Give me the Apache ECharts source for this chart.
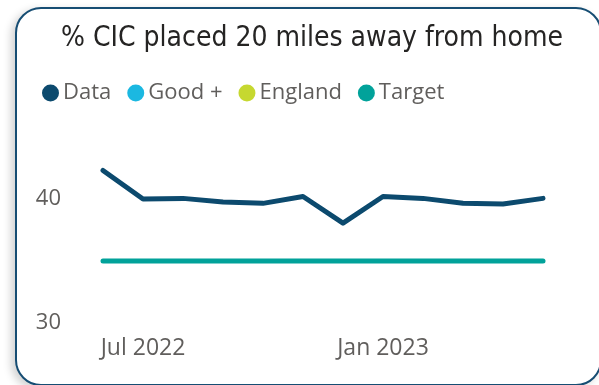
<!DOCTYPE html>
<html>
<head>
<meta charset="utf-8">
<script src="https://cdn.jsdelivr.net/npm/echarts@6/dist/echarts.min.js"></script>
<style>
  html, body { margin: 0; padding: 0; background: #ffffff; }
  #card { position: absolute; left: 15px; top: 7px; width: 583px; height: 375px;
          border: 2px solid #164d73; border-radius: 26px; background: #fff;
          box-shadow: -4px 3px 8px rgba(0,0,0,0.18); }
  #chart { position: absolute; left: 0; top: 0; width: 599px; height: 385px; }
</style>
</head>
<body>
<div id="card"></div>
<div id="chart"></div>
<script>
const months = ['Jun 2022','Jul 2022','Aug 2022','Sep 2022','Oct 2022','Nov 2022','Dec 2022','Jan 2023','Feb 2023','Mar 2023','Apr 2023','May 2023'];
const dataValues = [42.3, 40.0, 40.05, 39.75, 39.65, 40.2, 38.05, 40.2, 40.05, 39.65, 39.6, 40.05];
const targetValues = [35, 35, 35, 35, 35, 35, 35, 35, 35, 35, 35, 35];
const shownXLabels = ['Jul 2022', 'Jan 2023'];
const yTicks = [30, 40];
const legendNames = ['Data', 'Good +', 'England', 'Target'];
const colors = { 'Data': '#0c4a6e', 'Good +': '#1bb8e1', 'England': '#c6d830', 'Target': '#01a29a' };

const chart = echarts.init(document.getElementById('chart'), null, { renderer: 'canvas' });
chart.setOption({
  backgroundColor: 'transparent',
  animation: false,
  title: {
    text: '% CIC placed 20 miles away from home',
    left: 307, top: 20, textAlign: 'center',
    textStyle: { fontFamily: 'DejaVu Sans Condensed', fontWeight: 'normal', fontSize: 28, color: '#252423' }
  },
  legend: {
    left: 37, top: 77, icon: 'circle', itemWidth: 17, itemHeight: 17, itemGap: 16,
    data: legendNames,
    textStyle: { fontFamily: 'Open Sans', fontSize: 22, color: '#605e5c', padding: [0, 0, 0, -1] }
  },
  grid: { left: 103, right: 56, top: 149.4, bottom: 62 },
  xAxis: {
    type: 'category', data: months, boundaryGap: false,
    axisLine: { show: false }, axisTick: { show: false }, splitLine: { show: false },
    axisLabel: {
      interval: 0, margin: 14, fontFamily: 'Open Sans', fontSize: 23, color: '#605e5c',
      formatter: v => shownXLabels.includes(v) ? v : ''
    }
  },
  yAxis: {
    type: 'value', min: 30, max: 44, interval: 10,
    axisLine: { show: false }, axisTick: { show: false }, splitLine: { show: false },
    axisLabel: {
      margin: 42, fontFamily: 'Open Sans', fontSize: 22, color: '#605e5c',
      showMaxLabel: false,
      formatter: v => yTicks.includes(v) ? String(v) : ''
    }
  },
  series: [
    { name: 'Data', type: 'line', data: dataValues, symbol: 'none',
      itemStyle: { color: colors['Data'] },
      lineStyle: { width: 5, color: colors['Data'], cap: 'round', join: 'round' } },
    { name: 'Good +', type: 'line', data: [], symbol: 'none', itemStyle: { color: colors['Good +'] } },
    { name: 'England', type: 'line', data: [], symbol: 'none', itemStyle: { color: colors['England'] } },
    { name: 'Target', type: 'line', data: targetValues, symbol: 'none',
      itemStyle: { color: colors['Target'] },
      lineStyle: { width: 5, color: colors['Target'], cap: 'round', join: 'round' } }
  ]
});
</script>
</body>
</html>
